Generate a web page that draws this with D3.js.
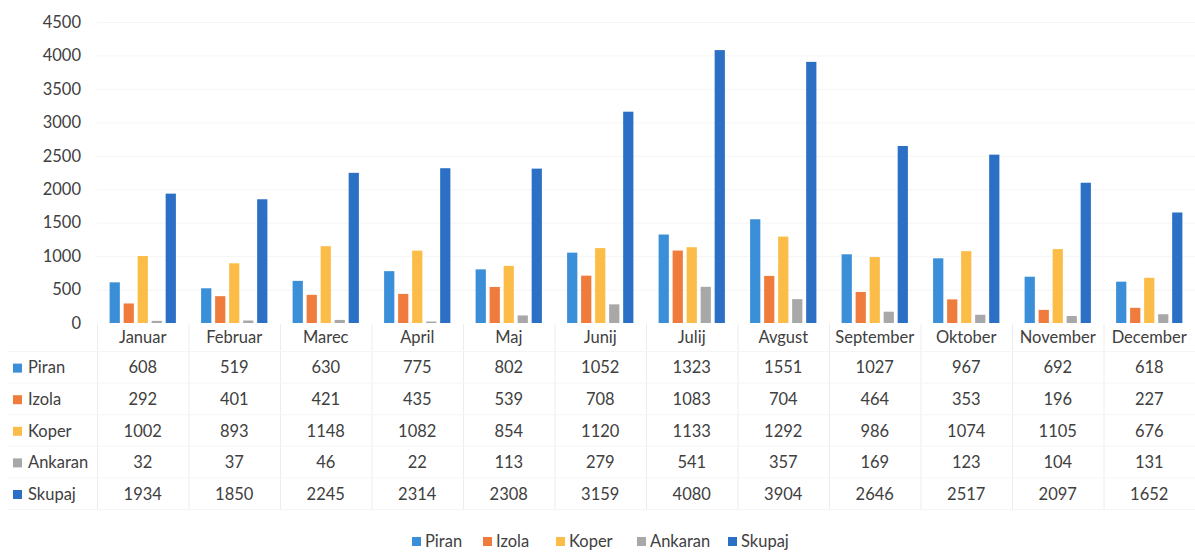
<!DOCTYPE html>
<html>
<head>
<meta charset="utf-8">
<script src="https://cdn.jsdelivr.net/npm/d3@7"></script>
<style>
    body { margin: 0; background: #fff; }
    text { font-family: Lato, "Open Sans", sans-serif; fill: #404040; }
</style>
</head>
<body>
<div id="chart"></div>
<script>
// data
const months = ["Januar", "Februar", "Marec", "April", "Maj", "Junij", "Julij", "Avgust", "September", "Oktober", "November", "December"];
const piran = [608, 519, 630, 775, 802, 1052, 1323, 1551, 1027, 967, 692, 618];
const izola = [292, 401, 421, 435, 539, 708, 1083, 704, 464, 353, 196, 227];
const koper = [1002, 893, 1148, 1082, 854, 1120, 1133, 1292, 986, 1074, 1105, 676];
const ankaran = [32, 37, 46, 22, 113, 279, 541, 357, 169, 123, 104, 131];
const skupaj = [1934, 1850, 2245, 2314, 2308, 3159, 4080, 3904, 2646, 2517, 2097, 1652];
const seriesNames = ["Piran", "Izola", "Koper", "Ankaran", "Skupaj"];
const yTicks = [0, 500, 1000, 1500, 2000, 2500, 3000, 3500, 4000, 4500];

const colors = ["#3b8ed8", "#ef7b3c", "#fbbd48", "#a8a8a8", "#2b70c4"];

function main() {
    const series = [piran, izola, koper, ankaran, skupaj].map(function(vals, i) {
        return { name: seriesNames[i], values: vals };
    });
    drawChart(series);
}

function drawChart(series) {
    const width = 1195, height = 552;
    const plotLeft = 97, plotRight = 1195;
    const plotTop = 22, plotBottom = 323;
    const rowH = 31.6;
    const headerY = 337;
    const fontSize = "16.5px";

    const svg = d3.select("#chart")
        .append("svg")
        .attr("width", width)
        .attr("height", height);

    // scales
    const xScale = d3.scaleBand()
        .domain(months)
        .range([plotLeft, plotRight]);

    const xInner = d3.scaleBand()
        .domain(seriesNames)
        .range([0, xScale.bandwidth()])
        .paddingInner(0.27)
        .paddingOuter(0.9);

    const yScale = d3.scaleLinear()
        .domain([0, 4500])
        .range([plotBottom, plotTop]);

    // faint gridlines
    svg.append("g")
        .selectAll("line")
        .data(yTicks.slice(1))
        .enter()
        .append("line")
        .attr("x1", plotLeft)
        .attr("x2", plotRight)
        .attr("y1", function(d) { return yScale(d) + 0.5; })
        .attr("y2", function(d) { return yScale(d) + 0.5; })
        .style("stroke", "#f5f5f5");

    // y axis
    const yAxis = svg.append("g")
        .attr("transform", `translate(${plotLeft - 16}, 0)`)
        .call(d3.axisLeft(yScale).tickValues(yTicks).tickFormat(d3.format("d")).tickSize(0).tickPadding(0));
    yAxis.select(".domain").remove();
    yAxis.selectAll("text")
        .style("font-size", fontSize)
        .style("font-family", "Lato, sans-serif")
        .style("fill", "#404040");

    // bars
    const groups = svg.selectAll(".series")
        .data(series)
        .enter()
        .append("g")
        .attr("class", "series")
        .style("fill", function(d, i) { return colors[i]; });

    groups.selectAll("rect")
        .data(function(d) { return d.values.map(function(v, j) { return { name: d.name, month: months[j], value: v }; }); })
        .enter()
        .append("rect")
        .attr("x", function(d) { return xScale(d.month) + xInner(d.name); })
        .attr("y", function(d) { return yScale(d.value); })
        .attr("width", xInner.bandwidth())
        .attr("height", function(d) { return plotBottom - yScale(d.value); });

    // data table
    const tableTop = plotBottom + 1;
    const rowLines = d3.range(6).map(function(i) { return headerY + 14 + rowH * i; });
    const tableBottom = rowLines[5];
    const table = svg.append("g");

    // vertical dividers
    table.selectAll(".vline")
        .data(months)
        .enter()
        .append("line")
        .attr("class", "vline")
        .attr("x1", function(d) { return xScale(d) + 0.5; })
        .attr("x2", function(d) { return xScale(d) + 0.5; })
        .attr("y1", tableTop)
        .attr("y2", tableBottom)
        .style("stroke", "#ececec");

    // horizontal dividers
    table.selectAll(".hline")
        .data(rowLines)
        .enter()
        .append("line")
        .attr("class", "hline")
        .attr("x1", 8)
        .attr("x2", plotRight)
        .attr("y1", function(d) { return d + 0.5; })
        .attr("y2", function(d) { return d + 0.5; })
        .style("stroke", "#f5f5f5");

    // month header
    table.selectAll(".month")
        .data(months)
        .enter()
        .append("text")
        .attr("class", "month")
        .attr("x", function(d) { return xScale(d) + xScale.bandwidth() / 2; })
        .attr("y", headerY)
        .attr("dy", "0.35em")
        .attr("text-anchor", "middle")
        .style("font-size", fontSize)
        .text(function(d) { return d; });

    // rows
    series.forEach(function(s, i) {
        const y = headerY + rowH * (i + 1) - 1;
        table.append("rect")
            .attr("x", 13)
            .attr("y", y - 4)
            .attr("width", 9)
            .attr("height", 9)
            .style("fill", colors[i]);
        table.append("text")
            .attr("x", 28)
            .attr("y", y)
            .attr("dy", "0.35em")
            .style("font-size", fontSize)
            .text(s.name);
        table.selectAll(".val" + i)
            .data(s.values)
            .enter()
            .append("text")
            .attr("x", function(d, j) { return xScale(months[j]) + xScale.bandwidth() / 2; })
            .attr("y", y)
            .attr("dy", "0.35em")
            .attr("text-anchor", "middle")
            .style("font-size", fontSize)
            .text(function(d) { return d; });
    });

    // legend
    const legendX = [412, 483, 556, 637, 728];
    const legend = svg.append("g")
        .selectAll("g")
        .data(seriesNames)
        .enter()
        .append("g")
        .attr("transform", function(d, i) { return `translate(${legendX[i]}, 541)`; });
    legend.append("rect")
        .attr("x", 0)
        .attr("y", -4)
        .attr("width", 9)
        .attr("height", 9)
        .style("fill", function(d, i) { return colors[i]; });
    legend.append("text")
        .attr("x", 13)
        .attr("y", 0)
        .attr("dy", "0.35em")
        .style("font-size", fontSize)
        .text(function(d) { return d; });
}

main();
</script>
</body>
</html>
